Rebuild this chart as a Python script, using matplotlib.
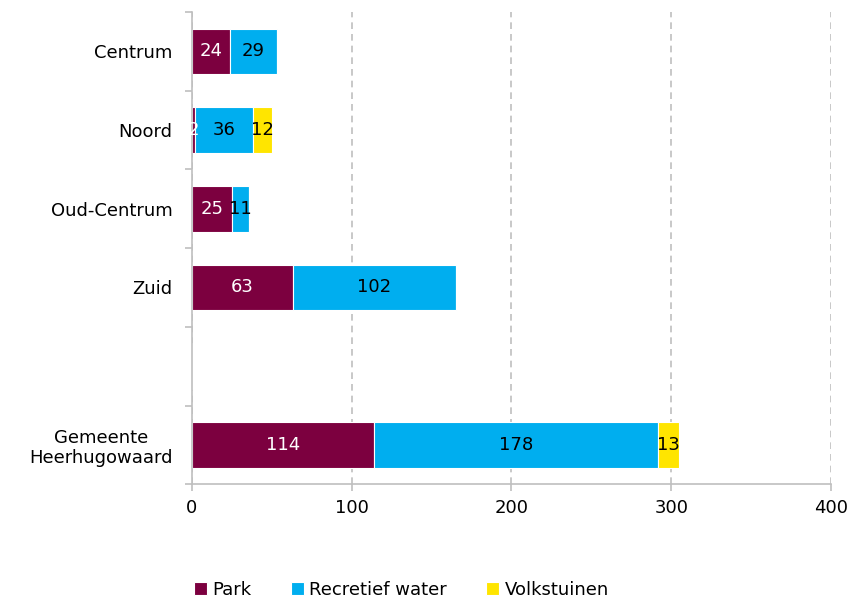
import matplotlib.pyplot as plt
import numpy as np

# data
wijken = ['Centrum', 'Noord', 'Oud-Centrum', 'Zuid', '', 'Gemeente\nHeerhugowaard']
park = [24, 2, 25, 63, 0, 114]
water = [29, 36, 11, 102, 0, 178]
volkstuinen = [0, 12, 0, 0, 0, 13]

kleur_park = '#7C003F'
kleur_water = '#00AEEF'
kleur_volk = '#FFE500'

fig = plt.figure(figsize=(8.54, 6), dpi=100)
ax = fig.add_axes([0.2248, 0.193, 0.973 - 0.2248, 0.98 - 0.193])

y = np.arange(len(wijken))
h = 0.58
park = np.array(park)
water = np.array(water)
volkstuinen = np.array(volkstuinen)

b1 = ax.barh(y, park, height=h, color=kleur_park, edgecolor='white', linewidth=0.8, label='Park')
b2 = ax.barh(y, water, left=park, height=h, color=kleur_water, edgecolor='white', linewidth=0.8, label='Recretief water')
b3 = ax.barh(y, volkstuinen, left=park + water, height=h, color=kleur_volk, edgecolor='white', linewidth=0.8, label='Volkstuinen')

# labels in the segments
fs = 13
for i in range(len(wijken)):
    if park[i] > 0:
        ax.text(park[i] / 2, y[i], str(park[i]), ha='center', va='center', color='white', fontsize=fs)
    if water[i] > 0:
        ax.text(park[i] + water[i] / 2, y[i], str(water[i]), ha='center', va='center', color='black', fontsize=fs)
    if volkstuinen[i] > 0:
        ax.text(park[i] + water[i] + volkstuinen[i] / 2, y[i], str(volkstuinen[i]), ha='center', va='center', color='black', fontsize=fs)

ax.set_xlim(0, 400)
ax.set_ylim(len(wijken) - 0.5, -0.5)
ax.set_xticks([0, 100, 200, 300, 400])
ax.set_yticks(y)
ax.set_yticklabels(wijken, fontsize=fs, linespacing=1.15)
for lbl in ax.get_yticklabels():
    lbl.set_multialignment('center')
ax.set_yticks(np.arange(-0.5, len(wijken), 1), minor=True)
ax.tick_params(axis='y', which='major', length=0, pad=14)
ax.tick_params(axis='y', which='minor', length=5, color='#BFBFBF', width=1.2)
ax.tick_params(axis='x', length=5, color='#BFBFBF', width=1.2, labelsize=fs, pad=6)

ax.grid(axis='x', linestyle=(0, (4, 3)), color='#BFBFBF', linewidth=1.2)
ax.set_axisbelow(True)
for s in ['top', 'right']:
    ax.spines[s].set_visible(False)
for s in ['left', 'bottom']:
    ax.spines[s].set_color('#BFBFBF')
    ax.spines[s].set_linewidth(1.2)

leg = fig.legend(handles=[b1, b2, b3], loc='center', bbox_to_anchor=(0.47, 0.017),
                 ncol=3, frameon=False, fontsize=fs, handlelength=0.7, handleheight=0.7,
                 handletextpad=0.3, columnspacing=2.2)

fig.savefig('out.png', dpi=100)
